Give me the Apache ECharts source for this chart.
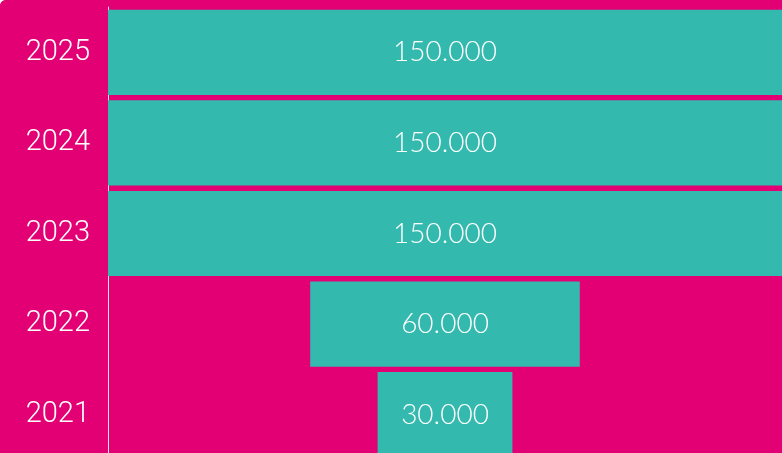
<!DOCTYPE html>
<html>
<head>
<meta charset="utf-8">
<script src="https://cdn.jsdelivr.net/npm/echarts@6/dist/echarts.min.js"></script>
<style>
  html, body { margin: 0; padding: 0; background: #fff; overflow: hidden; }
  #wrap { width: 782px; height: 453px; overflow: hidden; border-top-left-radius: 6px; }
  #main { width: 782px; height: 460px; background: #e20074; }
</style>
</head>
<body>
<div id="wrap"><div id="main"></div></div>
<script>
  var years = ['2025', '2024', '2023', '2022', '2021'];
  var values = [150000, 150000, 150000, 60000, 30000];
  var maxValue = 150000;

  // transparent offset so each bar sits in the middle
  var offsets = [];
  for (var i = 0; i < values.length; i++) {
    offsets.push((maxValue - values[i]) / 2);
  }

  function fmt(v) {
    return String(v).replace(/\B(?=(\d{3})+(?!\d))/g, '.');
  }

  var chart = echarts.init(document.getElementById('main'));
  chart.setOption({
    backgroundColor: '#e20074',
    animation: false,
    grid: { left: 108, right: 0, top: 7, bottom: 0, containLabel: false },
    xAxis: {
      type: 'value', min: 0, max: maxValue, show: false
    },
    yAxis: {
      type: 'category',
      data: years,
      inverse: true,
      axisLine: { show: true, lineStyle: { color: '#e6e6e6', width: 1 } },
      axisTick: { show: false },
      axisLabel: {
        color: '#ffffff', fontFamily: 'Roboto', fontWeight: 300, fontSize: 29, margin: 18
      }
    },
    series: [
      {
        type: 'bar', stack: 'f', data: offsets,
        itemStyle: { color: 'transparent' }, barCategoryGap: '6%', silent: true
      },
      {
        type: 'bar', stack: 'f', data: values,
        barCategoryGap: '6%',
        itemStyle: { color: '#33b9ae' },
        label: {
          show: true, position: 'inside', color: '#ffffff',
          fontFamily: 'Lato', fontWeight: 300, fontSize: 28,
          formatter: function (p) { return fmt(p.value); }
        }
      }
    ]
  });
</script>
</body>
</html>
